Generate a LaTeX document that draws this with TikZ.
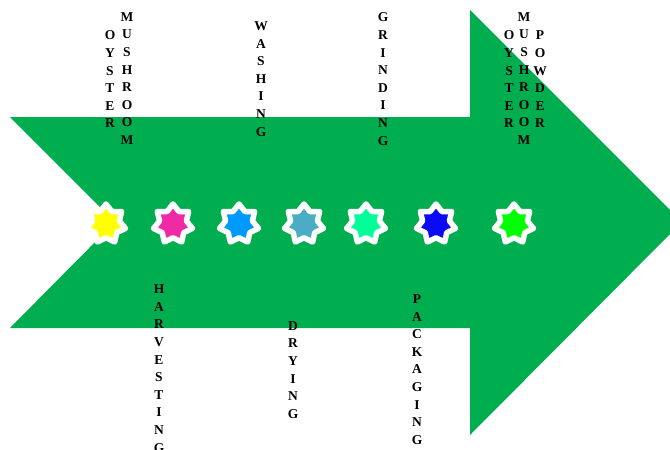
\documentclass[tikz,border=0pt]{standalone}
\usepackage{fontspec}
\setmainfont{Liberation Serif}
\usetikzlibrary{shapes.geometric}

\definecolor{arrowgreen}{HTML}{00AD4F}
\definecolor{cYellow}{HTML}{FFFF00}
\definecolor{cPink}{HTML}{F02AA6}
\definecolor{cAzure}{HTML}{0099FF}
\definecolor{cSteel}{HTML}{4BACC6}
\definecolor{cMint}{HTML}{00FF99}
\definecolor{cBlue}{HTML}{0A0AF5}
\definecolor{cLime}{HTML}{00FF00}

\begin{document}
\begin{tikzpicture}[
		x=1pt,
		y=-1pt,
		word/.style={align=center,inner sep=0pt,font=\fontsize{13.5}{17.6}\selectfont\bfseries},
		burst/.style={star,star points=7,star point ratio=1.45,minimum size=40pt,inner sep=0pt,
			draw=white,line width=5.5pt,line join=round},
		bigarrow/.style={fill=arrowgreen}
		]
		
		\clip (0,0) rectangle (670,450);
		
		% =====================================================
		% Arrow body
		% =====================================================
		\fill[bigarrow] (10,117) -- (470,117) -- (470,10) -- (682,222)
		-- (470,435) -- (470,328) -- (10,328) -- (115,222) -- cycle;
		
		% =====================================================
		% Steps (stars along the arrow)
		% =====================================================
		\node[burst,fill=cYellow] (s1) at (106,224) {};
		\node[burst,fill=cPink]   (s2) at (173,224) {};
		\node[burst,fill=cAzure]  (s3) at (239,224) {};
		\node[burst,fill=cSteel]  (s4) at (304,224) {};
		\node[burst,fill=cMint]   (s5) at (366,224) {};
		\node[burst,fill=cBlue]   (s6) at (436,224) {};
		\node[burst,fill=cLime]   (s7) at (514,224) {};
		
		% =====================================================
		% Labels above
		% =====================================================
		\node[word] (oyster) at (110,79.5) {O\\Y\\S\\T\\E\\R};
		\node[word] (mushroom) at (127,78.5) {M\\U\\S\\H\\R\\O\\O\\M};
		
		\node[word] (washing) at (261,79) {W\\A\\S\\H\\I\\N\\G};
		
		\node[word] (grinding) at (383,79) {G\\R\\I\\N\\D\\I\\N\\G};
		
		\node[word] (oysterp) at (509,79.5) {O\\Y\\S\\T\\E\\R};
		\node[word] (mushroomp) at (524,78.5) {M\\U\\S\\H\\R\\O\\O\\M};
		\node[word] (powder) at (540,79.5) {P\\O\\W\\D\\E\\R};
		
		% =====================================================
		% Labels below
		% =====================================================
		\node[word] (harvesting) at (159,368.5) {H\\A\\R\\V\\E\\S\\T\\I\\N\\G};
		
		\node[word] (drying) at (293,370) {D\\R\\Y\\I\\N\\G};
		
		\node[word] (packaging) at (417,369.5) {P\\A\\C\\K\\A\\G\\I\\N\\G};
		
	\end{tikzpicture}
\end{document}
